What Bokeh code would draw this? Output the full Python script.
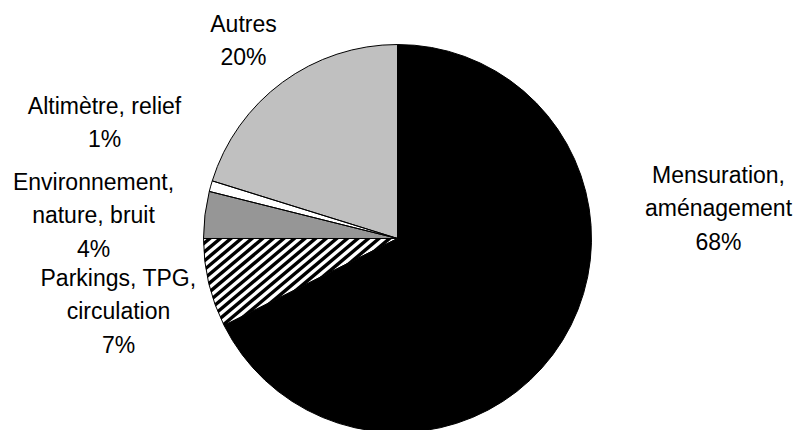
import math
from bokeh.plotting import figure
from bokeh.models import Range1d, ColumnDataSource
from bokeh.core.properties import value
from bokeh.embed import file_html
from bokeh.resources import INLINE

# ---- data ----
categories = ["Mensuration,\naménagement", "Parkings, TPG,\ncirculation",
              "Environnement,\nnature, bruit", "Altimètre, relief", "Autres"]
shares = [67.6, 7.4, 3.9, 0.9, 20.2]

# ---- styles / layout ----
fills = ["#000000", "#FFFFFF", "#969696", "#FFFFFF", "#C0C0C0"]
hatched = [False, True, False, False, False]
# label centres in image pixel coordinates
label_pos = [(718, 208), (118, 311), (93, 215), (104, 122), (243, 40)]

W, H = 800, 430
cx, cy, R = 397, 430 - 238, 194

total = sum(shares)
starts, ends = [], []
cum = 0.0
for s in shares:
    starts.append(math.pi / 2 - 2 * math.pi * cum / total)
    cum += s
    ends.append(math.pi / 2 - 2 * math.pi * cum / total)

src = ColumnDataSource(dict(
    x=[cx] * len(shares), y=[cy] * len(shares),
    start=starts, end=ends, fill=fills,
))

p = figure(width=W, height=H, output_backend="svg", toolbar_location=None,
           x_range=Range1d(0, W), y_range=Range1d(0, H), min_border=0)
p.axis.visible = False
p.grid.visible = False
p.outline_line_color = None
p.background_fill_color = "white"
p.border_fill_color = "white"

# fills
p.wedge(x="x", y="y", radius=R, start_angle="start", end_angle="end",
        direction="clock", source=src, fill_color="fill", line_color=None)


# ---- manual diagonal hatching, clipped to the sector ----
def clip(subject, clipper):
    out = subject
    n = len(clipper)
    for i in range(n):
        a = clipper[i]
        b = clipper[(i + 1) % n]
        inp = out
        out = []
        if not inp:
            break

        def inside(pt):
            return (b[0] - a[0]) * (pt[1] - a[1]) - (b[1] - a[1]) * (pt[0] - a[0]) >= 0

        def inter(p1, p2):
            x1, y1 = p1
            x2, y2 = p2
            x3, y3 = a
            x4, y4 = b
            den = (x1 - x2) * (y3 - y4) - (y1 - y2) * (x3 - x4)
            t = ((x1 - x3) * (y3 - y4) - (y1 - y3) * (x3 - x4)) / den
            return (x1 + t * (x2 - x1), y1 + t * (y2 - y1))

        s = inp[-1]
        for e in inp:
            if inside(e):
                if not inside(s):
                    out.append(inter(s, e))
                out.append(e)
            elif inside(s):
                out.append(inter(s, e))
            s = e
    return out


hx, hy = [], []
for i, h in enumerate(hatched):
    if not h:
        continue
    a0, a1 = starts[i], ends[i]   # clockwise: a1 < a0
    npts = 60
    # counter-clockwise polygon: centre, arc from a1 to a0
    sector = [(cx, cy)] + [(cx + R * math.cos(a1 + (a0 - a1) * k / npts),
                            cy + R * math.sin(a1 + (a0 - a1) * k / npts)) for k in range(npts + 1)]
    ang = math.radians(40)
    d = (math.cos(ang), math.sin(ang))        # stripe direction
    nrm = (math.sin(ang), -math.cos(ang))     # normal
    period, width = 6.8, 3.4
    L = 2 * R
    k = -int(L / period) - 1
    while k * period < L:
        o1, o2 = k * period, k * period + width
        quad = []
        for off, sgn in ((o1, -1), (o1, 1), (o2, 1), (o2, -1)):
            quad.append((cx + nrm[0] * off + sgn * d[0] * L, cy + nrm[1] * off + sgn * d[1] * L))
        # ensure counter-clockwise orientation of quad
        area = sum(quad[j][0] * quad[(j + 1) % 4][1] - quad[(j + 1) % 4][0] * quad[j][1] for j in range(4))
        if area < 0:
            quad = quad[::-1]
        poly = clip(quad, sector)
        if len(poly) >= 3:
            hx.append([q[0] for q in poly])
            hy.append([q[1] for q in poly])
        k += 1

p.patches(hx, hy, fill_color="black", line_color=None)

# outlines on top
p.wedge(x="x", y="y", radius=R, start_angle="start", end_angle="end",
        direction="clock", source=src, fill_color=None,
        line_color="black", line_width=1)

labels = [f"{c}\n{round(s)}%" for c, s in zip(categories, shares)]
p.text(x=[lp[0] for lp in label_pos], y=[H - lp[1] for lp in label_pos], text=labels,
       text_align="center", text_baseline="middle",
       text_font=value("Liberation Sans"), text_font_size="23px",
       text_line_height=1.3, text_color="black")

open("out.html", "w").write(file_html(p, INLINE))
